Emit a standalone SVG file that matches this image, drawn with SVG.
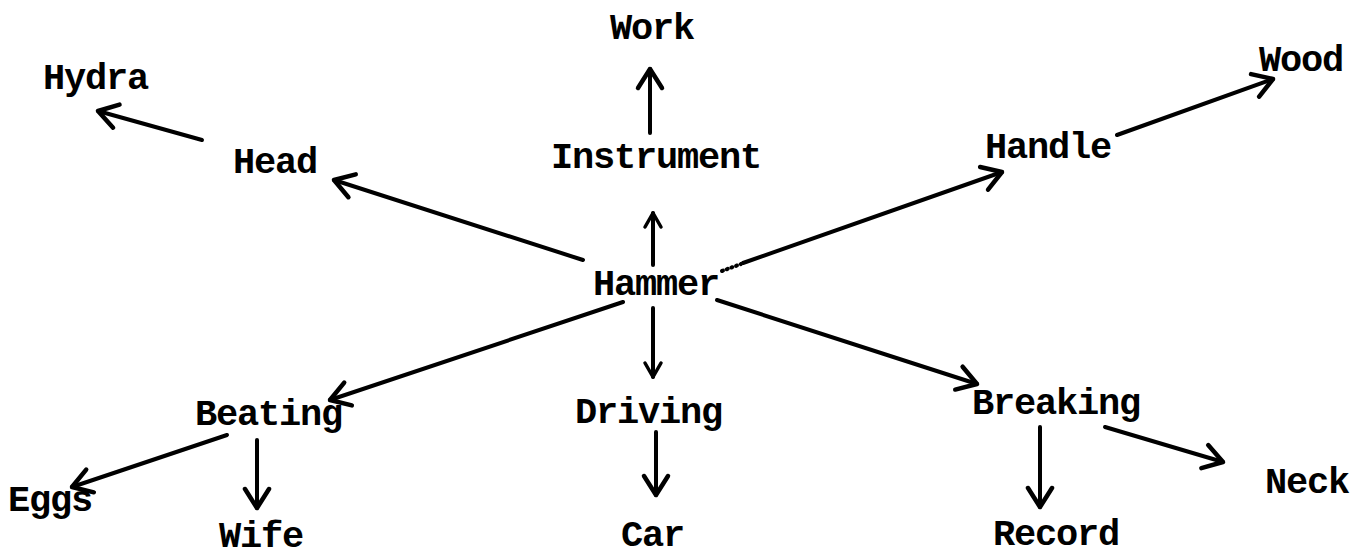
<svg xmlns="http://www.w3.org/2000/svg" width="1353" height="557" viewBox="0 0 1353 557">
<style>
text{font-family:"Liberation Mono","Courier New",monospace;font-weight:bold;font-size:37px;letter-spacing:-1.2px;fill:#000}
.c{stroke:#000;stroke-width:4;fill:none;stroke-linecap:round;stroke-linejoin:round}
</style>
<defs>
<marker id="ah" markerUnits="userSpaceOnUse" markerWidth="40" markerHeight="40" viewBox="-30 -20 40 40" refX="0" refY="0" orient="auto">
<path d="M-19,-12 L0,0 L-19,12" fill="none" stroke="#000" stroke-width="4.5" stroke-linecap="round" stroke-linejoin="round"/>
</marker>
<marker id="as" markerUnits="userSpaceOnUse" markerWidth="40" markerHeight="40" viewBox="-30 -20 40 40" refX="0" refY="0" orient="auto">
<path d="M-14,-8 L0,0 L-14,8" fill="none" stroke="#000" stroke-width="3.5" stroke-linecap="round" stroke-linejoin="round"/>
</marker>
</defs>
<rect width="1353" height="557" fill="#fff"/>
<g id="connectors">
<line class="c" x1="583" y1="260" x2="334" y2="180" marker-end="url(#ah)"/>
<line class="c" x1="202" y1="140" x2="98" y2="111" marker-end="url(#ah)" stroke-width="5"/>
<line class="c" x1="653" y1="265" x2="653" y2="213" marker-end="url(#as)"/>
<line class="c" x1="650" y1="133" x2="650" y2="69" marker-end="url(#ah)"/>
<line class="c" x1="722" y1="271" x2="741" y2="264" stroke-width="2" stroke-dasharray="1 4"/>
<line class="c" x1="743" y1="263" x2="1002" y2="172" marker-end="url(#ah)"/>
<line class="c" x1="1117" y1="135" x2="1273" y2="79" marker-end="url(#ah)"/>
<line class="c" x1="623" y1="302" x2="330" y2="400" marker-end="url(#ah)"/>
<line class="c" x1="653" y1="308" x2="653" y2="377" marker-end="url(#as)" stroke-width="3"/>
<line class="c" x1="717" y1="300" x2="977" y2="384" marker-end="url(#ah)"/>
<line class="c" x1="227" y1="435" x2="72" y2="487" marker-end="url(#ah)"/>
<line class="c" x1="257" y1="440" x2="257" y2="508" marker-end="url(#ah)"/>
<line class="c" x1="656" y1="432" x2="656" y2="495" marker-end="url(#ah)"/>
<line class="c" x1="1040" y1="427" x2="1040" y2="507" marker-end="url(#ah)"/>
<line class="c" x1="1105" y1="427" x2="1223" y2="462" marker-end="url(#ah)"/>
</g>
<g id="n-work"><text x="610" y="39">Work</text></g>
<g id="n-hydra"><text x="43" y="89">Hydra</text></g>
<g id="n-head"><text x="233" y="173">Head</text></g>
<g id="n-instrument"><text x="551" y="168">Instrument</text></g>
<g id="n-handle"><text x="985" y="158">Handle</text></g>
<g id="n-wood"><text x="1259" y="71">Wood</text></g>
<g id="n-hammer"><text x="593" y="295">Hammer</text></g>
<g id="n-beating"><text x="195" y="425">Beating</text></g>
<g id="n-driving"><text x="575" y="423">Driving</text></g>
<g id="n-breaking"><text x="972" y="414">Breaking</text></g>
<g id="n-eggs"><text x="8" y="511">Eggs</text></g>
<g id="n-wife"><text x="219" y="547">Wife</text></g>
<g id="n-car"><text x="621" y="546">Car</text></g>
<g id="n-record"><text x="993" y="545">Record</text></g>
<g id="n-neck"><text x="1265" y="493">Neck</text></g>
</svg>
